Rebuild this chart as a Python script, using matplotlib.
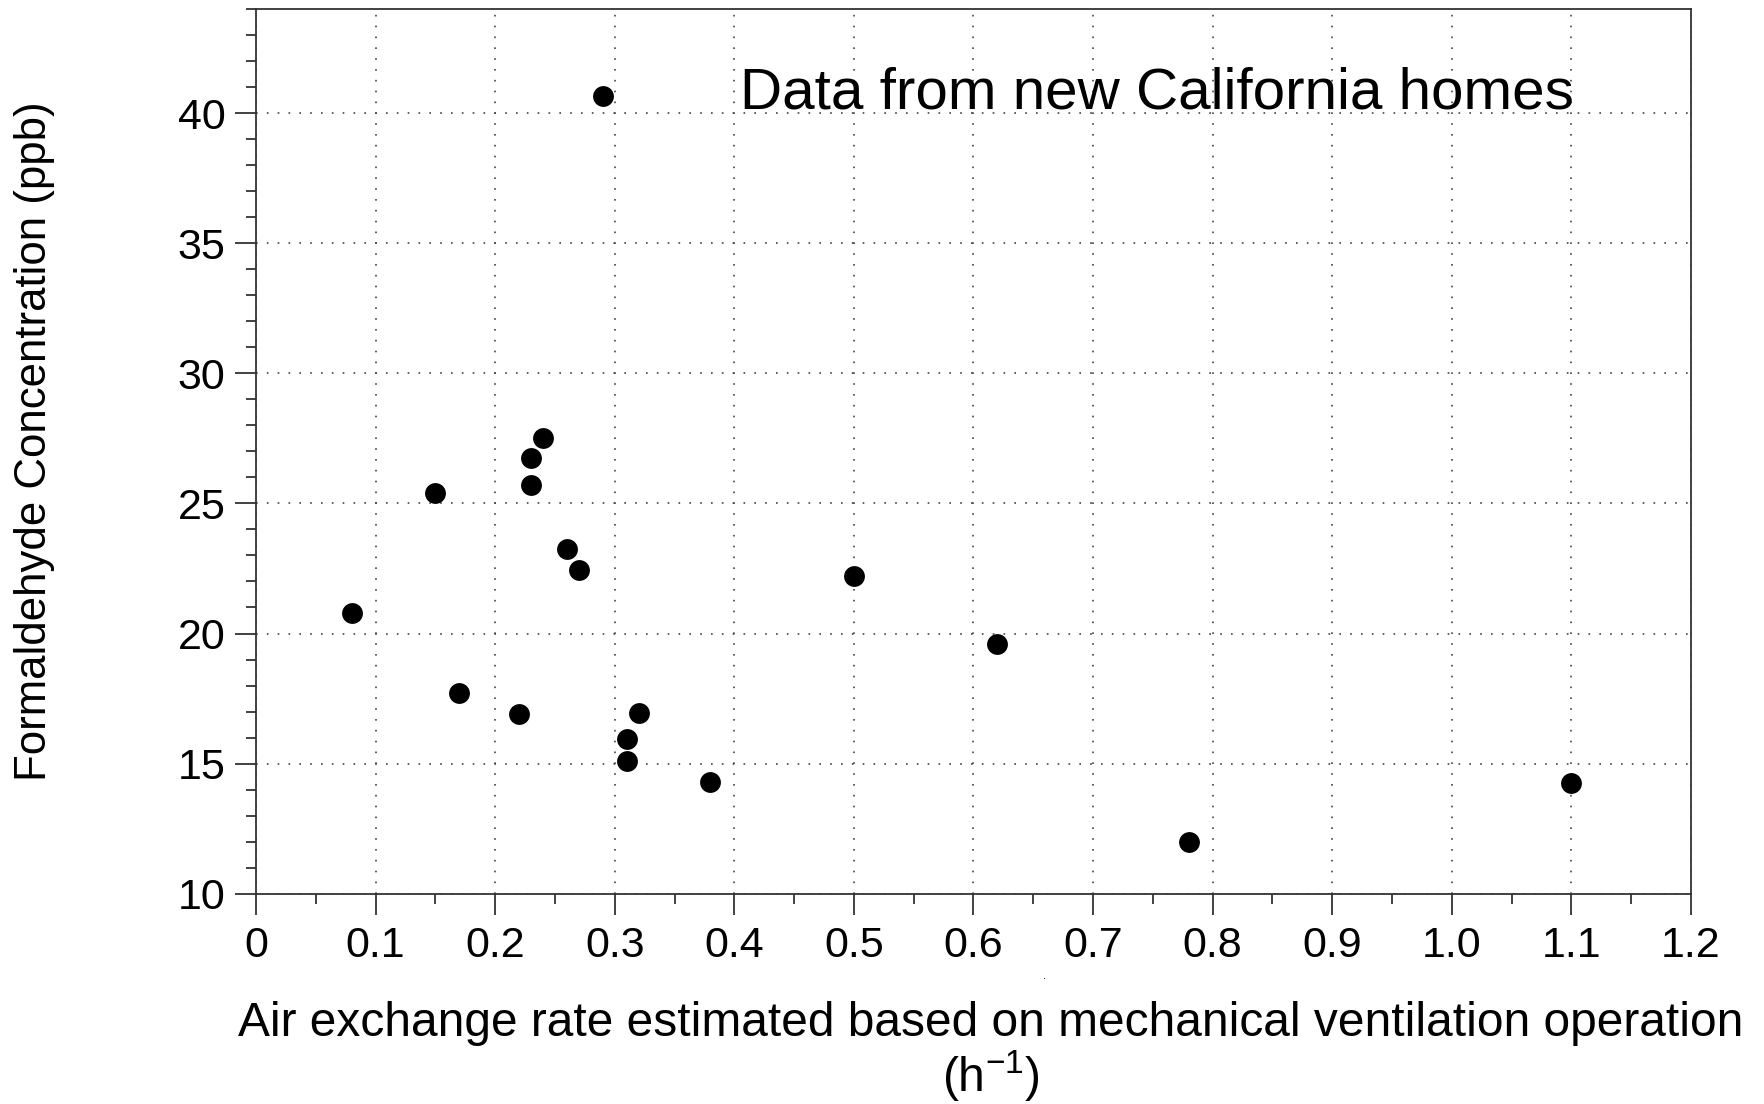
import matplotlib
matplotlib.use("Agg")
import matplotlib.pyplot as plt
from matplotlib.ticker import MultipleLocator

plt.rcParams["font.family"] = ["Liberation Sans", "DejaVu Sans"]
plt.rcParams["mathtext.fontset"] = "custom"
plt.rcParams["mathtext.rm"] = "Liberation Sans"

# air exchange rate (1/h) vs formaldehyde (ppb)
air_exchange = [0.08, 0.15, 0.17, 0.22, 0.23, 0.23, 0.24, 0.26, 0.27, 0.29,
                0.31, 0.31, 0.32, 0.38, 0.50, 0.62, 0.78, 1.10]
formaldehyde = [20.8, 25.4, 17.7, 16.9, 26.75, 25.7, 27.5, 23.25, 22.45, 40.65,
                15.95, 15.1, 16.95, 14.3, 22.2, 19.6, 12.0, 14.25]

x_ticks = [0, 0.1, 0.2, 0.3, 0.4, 0.5, 0.6, 0.7, 0.8, 0.9, 1.0, 1.1, 1.2]
x_tick_labels = ["0", "0.1", "0.2", "0.3", "0.4", "0.5", "0.6", "0.7", "0.8",
                 "0.9", "1.0", "1.1", "1.2"]
y_ticks = [10, 15, 20, 25, 30, 35, 40]

fig = plt.figure(figsize=(17.64, 11.04), dpi=100)
ax = fig.add_axes([0.1451, 0.1905, 0.9586 - 0.1451, 0.9918 - 0.1905])

ax.plot(air_exchange, formaldehyde, "o", color="black", markersize=15,
        markeredgewidth=0, zorder=3)

ax.set_xlim(0, 1.2)
ax.set_ylim(10, 44)
ax.set_xticks(x_ticks)
ax.set_xticklabels(x_tick_labels)
ax.set_yticks(y_ticks)
ax.xaxis.set_minor_locator(MultipleLocator(0.05))
ax.yaxis.set_minor_locator(MultipleLocator(1))

ax.tick_params(which="major", direction="out", length=15, width=1.3,
               color="#333333", labelsize=31, pad=7)
ax.tick_params(which="minor", direction="out", length=7.5, width=1.3,
               color="#333333")
ax.tick_params(axis="x", which="major", pad=8)

for s in ax.spines.values():
    s.set_linewidth(1.3)
    s.set_color("#333333")

ax.grid(True, which="major", color="#444444", linewidth=1.2,
        linestyle=(0, (1, 5.5)))
ax.set_axisbelow(True)

ax.text(0.405, 40.19, "Data from new California homes", fontsize=42,
        ha="left", va="baseline")

fig.text(0.0193, 0.6005, "Formaldehyde Concentration (ppb)", fontsize=31.5,
         rotation=90, ha="center", va="center")
fig.text(991 / 1764, 1 - 1024 / 1104,
         "Air exchange rate estimated based on mechanical ventilation operation",
         fontsize=34.5, ha="center", va="center")
fig.text(991 / 1764, 1 - 1076 / 1104, r"(h$^{\mathregular{-1}}$)",
         fontsize=34.5, ha="center", va="center")
fig.text(1044 / 1764, 1 - 979 / 1104, ".", fontsize=8, ha="center",
         va="baseline")

fig.savefig("out.png", dpi=100)
